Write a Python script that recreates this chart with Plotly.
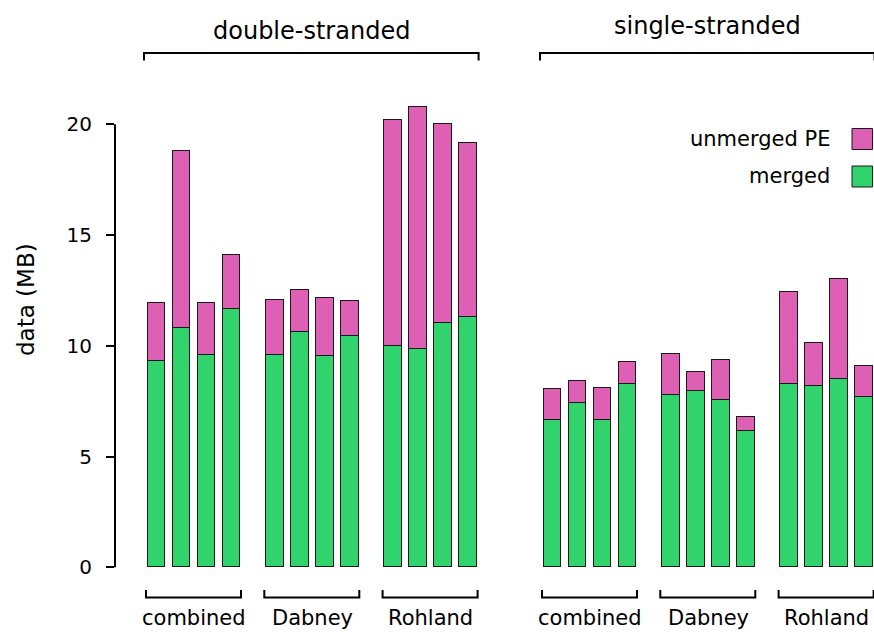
import plotly.graph_objects as go

# ---- data (MB) ----
strands = ["double-stranded", "single-stranded"]
groups = ["combined", "Dabney", "Rohland"]
series_names = ["merged", "unmerged PE"]
series_colors = ["#31d36c", "#dd60b4"]

merged_ds = [9.33, 10.82, 9.60, 11.65, 9.60, 10.62, 9.55, 10.46, 10.01, 9.84, 11.03, 11.32]
unmerged_ds = [2.62, 7.98, 2.33, 2.43, 2.48, 1.90, 2.62, 1.58, 10.20, 10.96, 8.98, 7.84]
merged_ss = [6.65, 7.40, 6.64, 8.28, 7.79, 7.94, 7.54, 6.14, 8.26, 8.21, 8.49, 7.70]
unmerged_ss = [1.39, 1.01, 1.44, 0.97, 1.85, 0.86, 1.83, 0.63, 4.15, 1.93, 4.51, 1.40]

y_ticks = [0, 5, 10, 15, 20]

# ---- layout constants ----
W, H = 874, 632
M_L, M_R, M_T, M_B = 115, 0, 91, 58
BARS_PER_GROUP = 4
GROUP_STEP = 4.732
STRAND_STEP = 15.84
BAR_W = 0.70
X_RANGE = [-1.66, 28.70]
Y_RANGE = [-0.30, 21.506]
FONT = "DejaVu Sans"
INK = "#000000"

plot_w = W - M_L - M_R
plot_h = H - M_T - M_B


def px_x(px):
    return (px - M_L) / plot_w


def px_y(py):
    return (H - M_B - py) / plot_h


# bar positions: strand -> group -> replicate
xs = []
for s in range(len(strands)):
    for g in range(len(groups)):
        for i in range(BARS_PER_GROUP):
            xs.append(s * STRAND_STEP + g * GROUP_STEP + i)

merged = merged_ds + merged_ss
unmerged = unmerged_ds + unmerged_ss

fig = go.Figure()
for name, vals, color in zip(series_names, [merged, unmerged], series_colors):
    fig.add_trace(go.Bar(
        x=xs, y=vals, name=name, width=BAR_W,
        marker=dict(color=color, line=dict(color="#1a1a1a", width=1)),
        showlegend=False,
    ))

shapes = []
annotations = []

# y-axis spine covering only the tick range
shapes.append(dict(type="line", xref="paper", yref="y", x0=0, x1=0,
                   y0=y_ticks[0], y1=y_ticks[-1], line=dict(color=INK, width=2)))

# strand brackets and titles above the bars
top_line, top_tick = px_y(53), px_y(60.5)
title_y = [px_y(30.5), px_y(26)]
for s, strand in enumerate(strands):
    first = s * STRAND_STEP
    last = s * STRAND_STEP + (len(groups) - 1) * GROUP_STEP + BARS_PER_GROUP - 1
    x0, x1 = first - 0.5, last + 0.42
    shapes.append(dict(type="path", xref="x", yref="paper",
                       path=f"M {x0},{top_tick} L {x0},{top_line} L {x1},{top_line} L {x1},{top_tick}",
                       line=dict(color=INK, width=2)))
    annotations.append(dict(x=(x0 + x1) / 2, y=title_y[s], xref="x", yref="paper",
                            text=strand, showarrow=False, xanchor="center", yanchor="middle",
                            font=dict(family=FONT, size=24, color=INK)))

# group brackets and labels below the bars
bot_line, bot_tick = px_y(597.5), px_y(590)
for s in range(len(strands)):
    for g, grp in enumerate(groups):
        first = s * STRAND_STEP + g * GROUP_STEP
        last = first + BARS_PER_GROUP - 1
        x0, x1 = first - 0.42, last + 0.38
        shapes.append(dict(type="path", xref="x", yref="paper",
                           path=f"M {x0},{bot_tick} L {x0},{bot_line} L {x1},{bot_line} L {x1},{bot_tick}",
                           line=dict(color=INK, width=2)))
        annotations.append(dict(x=(first + last) / 2, y=px_y(617.5), xref="x", yref="paper",
                                text=grp, showarrow=False, xanchor="center", yanchor="middle",
                                font=dict(family=FONT, size=21, color=INK)))

# legend: label on the left, swatch on the right
legend_rows = [("unmerged PE", series_colors[1], 139), ("merged", series_colors[0], 176.5)]
for label, color, cy in legend_rows:
    shapes.append(dict(type="rect", xref="paper", yref="paper",
                       x0=px_x(852), x1=px_x(872.5), y0=px_y(cy + 10.5), y1=px_y(cy - 10.5),
                       fillcolor=color, line=dict(color="#1a1a1a", width=1)))
    annotations.append(dict(x=px_x(832), y=px_y(cy), xref="paper", yref="paper",
                            text=label, showarrow=False, xanchor="right", yanchor="middle",
                            font=dict(family=FONT, size=21, color=INK)))

# y-axis title
annotations.append(dict(x=px_x(26), y=px_y(300), xref="paper", yref="paper",
                        text="data (MB)", textangle=-90, showarrow=False,
                        xanchor="center", yanchor="middle",
                        font=dict(family=FONT, size=23, color=INK)))

fig.update_layout(
    width=W, height=H,
    margin=dict(l=M_L, r=M_R, t=M_T, b=M_B, pad=0),
    barmode="stack",
    bargap=0,
    plot_bgcolor="white", paper_bgcolor="white",
    font=dict(family=FONT, size=20, color=INK),
    shapes=shapes,
    annotations=annotations,
    showlegend=False,
    xaxis=dict(range=X_RANGE, visible=False, showgrid=False, zeroline=False, fixedrange=True),
    yaxis=dict(range=Y_RANGE, tickvals=y_ticks, ticktext=[str(v) for v in y_ticks],
               ticks="outside", ticklen=8, tickwidth=2, tickcolor=INK,
               ticklabelstandoff=10,
               showline=False, showgrid=False, zeroline=False,
               tickfont=dict(family=FONT, size=20, color=INK), fixedrange=True),
)

fig.write_html("out.html", include_plotlyjs=True, config={"displayModeBar": False})
